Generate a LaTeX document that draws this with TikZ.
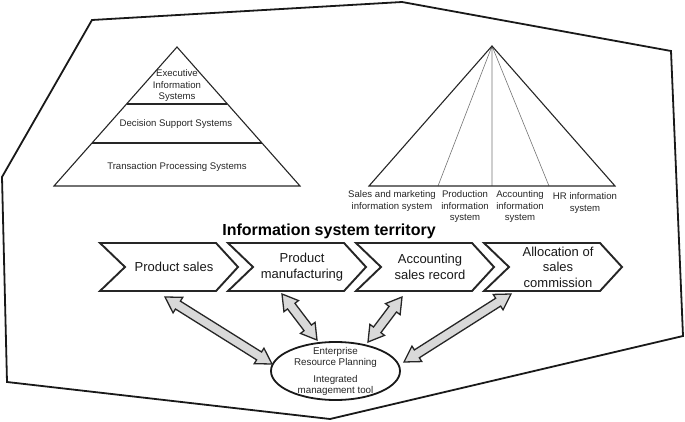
\documentclass[tikz,border=0pt]{standalone}
\usepackage{fontspec}
\setmainfont{Liberation Sans}
\usetikzlibrary{shapes.arrows,shapes.geometric,calc}
\newcommand\chevron[3]{%
  \draw[chevbox] (#2,243) -- ++(116,0) -- ++(22,24) -- ++(-22,24) -- ++(-116,0) -- ++(25,-24) -- cycle;
  \node[chevtext] (#1) at (#2+74,267) {#3};}
\newcommand\dblarrow[2]{%
  \path let \p1=($(#2)-(#1)$), \n1={atan2(\y1,\x1)}, \n2={veclen(\x1,\y1)} in
    node[dbl, rotate=\n1, minimum height=\n2] at ($(#1)!0.5!(#2)$) {};}
\begin{document}
\begin{tikzpicture}[x=1pt,y=-1pt,
  outer/.style={line width=1.8pt, line join=miter, draw=black!90},
  pyr/.style={line width=1.1pt, draw=black!85},
  divline/.style={line width=1.4pt, draw=black!85},
  thinline/.style={line width=0.6pt, draw=black!55},
  small/.style={font=\fontsize{9.6}{11.5}\selectfont, align=center, text=black!85, inner sep=0pt},
  chevtext/.style={font=\fontsize{13}{15.5}\selectfont, align=center, text=black!90, inner sep=0pt},
  chevbox/.style={line width=1.9pt, draw=black!85, fill=white, line join=miter},
  dbl/.style={shape=double arrow, draw=black!85, fill=black!15, line width=1.3pt,
    inner xsep=0pt, inner ysep=4pt, double arrow head extend=4.5pt, double arrow tip angle=62},
]
\useasboundingbox (0,0) rectangle (685,422);
% outer boundary
\draw[outer] (92,20) -- (402,2) -- (671,51) -- (683,336) -- (330,419) -- (7,382) -- (2,177) -- cycle;
% left pyramid
\coordinate (LA) at (177,47);
\coordinate (LB) at (54,186);
\coordinate (LC) at (300,186);
\draw[pyr] (LA) -- (LC) -- (LB) -- cycle;
\draw[divline] ($(LA)!0.41!(LB)$) -- ($(LA)!0.41!(LC)$);
\draw[divline] ($(LA)!0.69!(LB)$) -- ($(LA)!0.69!(LC)$);
\node[small] (eis) at (177,86) {Executive\\Information\\Systems};
\node[small] (dss) at (176,124) {Decision Support Systems};
\node[small] (tps) at (177,167) {Transaction Processing Systems};
% right pyramid
\coordinate (RA) at (492,46);
\coordinate (RB) at (369,186);
\coordinate (RC) at (615,186);
\coordinate (R1) at (438,186);
\coordinate (R2) at (492,186);
\coordinate (R3) at (549,186);
\draw[thinline] (RA) -- (R1) (RA) -- (R2) (RA) -- (R3);
\draw[pyr] (RA) -- (RC) -- (RB) -- cycle;
\node[small] (smis) at (392,201) {Sales and marketing\\information system};
\node[small] (pis) at (465,207) {Production\\information\\system};
\node[small] (ais) at (520,207) {Accounting\\information\\system};
\node[small] (hris) at (585,203) {HR information\\system};
% title
\node[font=\fontsize{16}{19}\selectfont\bfseries, inner sep=0pt] (title) at (329,231) {Information system territory};
% chevrons
\chevron{c1}{100}{Product sales}
\chevron{c2}{228}{Product\\manufacturing}
\chevron{c3}{356}{Accounting\\sales record}
\chevron{c4}{484}{Allocation of\\sales\\commission}
% ERP ellipse
\node[ellipse, draw=black!90, line width=1.8pt, fill=white, minimum width=129pt, minimum height=58pt, inner sep=0pt] (erp) at (335.5,371) {};
\node[font=\fontsize{9.8}{11}\selectfont, align=center, text=black!85, inner sep=0pt] (erptext) at (erp.center) {Enterprise\\Resource Planning\\[6pt]Integrated\\management tool};
% double arrows
\coordinate (a1t) at (165,297); \coordinate (a1b) at (272,364);
\coordinate (a2t) at (282,294); \coordinate (a2b) at (317,340);
\coordinate (a3t) at (402,297); \coordinate (a3b) at (368,342);
\coordinate (a4t) at (511,294); \coordinate (a4b) at (404,362);
\dblarrow{a1t}{a1b}
\dblarrow{a2t}{a2b}
\dblarrow{a3t}{a3b}
\dblarrow{a4t}{a4b}
\end{tikzpicture}
\end{document}
